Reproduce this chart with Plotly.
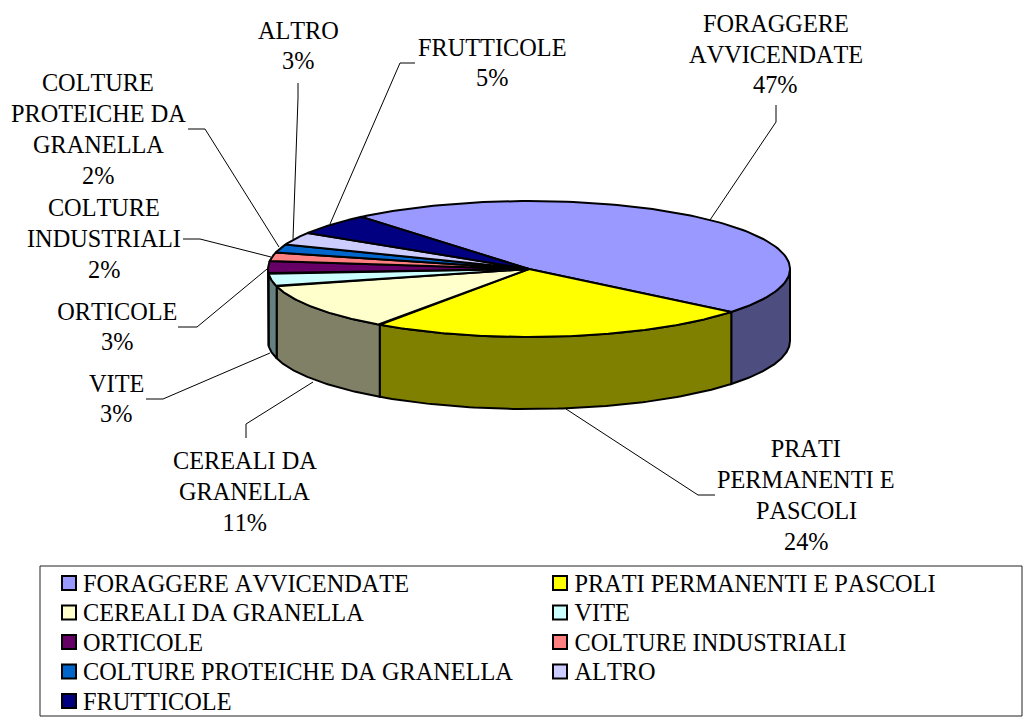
import numpy as np
import plotly.graph_objects as go

categories = ["FORAGGERE AVVICENDATE", "PRATI PERMANENTI E PASCOLI", "CEREALI DA GRANELLA",
              "VITE", "ORTICOLE", "COLTURE INDUSTRIALI",
              "COLTURE PROTEICHE DA GRANELLA", "ALTRO", "FRUTTICOLE"]
values = [47.0, 23.8, 11.2, 3, 3, 2, 2, 3, 5]
top_colors = ["#9999FF", "#FFFF00", "#FFFFCC", "#CCFFFF", "#660066", "#FF8080", "#0066CC", "#CCCCFF", "#000080"]
side_colors = ["#4D4D80", "#808000", "#808066", "#668080", "#330033", "#804040", "#003366", "#666680", "#000040"]
label_lines = [["FORAGGERE", "AVVICENDATE"], ["PRATI", "PERMANENTI E", "PASCOLI"], ["CEREALI DA", "GRANELLA"],
               ["VITE"], ["ORTICOLE"], ["COLTURE", "INDUSTRIALI"],
               ["COLTURE", "PROTEICHE DA", "GRANELLA"], ["ALTRO"], ["FRUTTICOLE"]]

# layout constants (pixels)
CX, CY, RX, RY, DEPTH = 529, 269, 261, 68, 72
START = 130.0
FONT = "Liberation Serif, Times New Roman, serif"
FS = 24.3
LABEL_DY = 30.7
label_pos = [(775.5, 54), (806, 495), (244.5, 491.5), (116, 398.5), (117, 326.5),
             (104, 238.5), (98, 129), (298, 45.5), (492, 62.5)]
leaders = [[(776, 105), (776, 122), (710, 220)],
           [(566, 409), (698, 495), (715, 495)],
           [(246, 438), (246, 424), (313, 382)],
           [(146, 399), (163, 399), (270, 353)],
           [(178, 327), (197, 327), (267, 269)],
           [(183, 239), (200, 239), (271, 257)],
           [(188, 129), (205, 129), (279, 247)],
           [(298, 83), (298, 98), (293, 239)],
           [(415, 63), (400, 63), (330, 224)]]
LEG_X = [69, 560]
LEG_TEXT_X = [83, 574.5]
LEG_TEXT_DY = 2.5
LEG_Y0, LEG_DY = 583, 29.5

fig = go.Figure()
fracs = np.array(values, float) / sum(values) * 360
ends = START - np.cumsum(fracs)
starts = ends + fracs


def pt(a, dz=0):
    a = np.radians(a)
    return CX + RX * np.cos(a), CY - RY * np.sin(a) + dz


def face(xs, ys, color):
    fig.add_trace(go.Scatter(x=xs, y=ys, mode="lines", fill="toself", fillcolor=color,
                             line=dict(color="black", width=2), hoverinfo="skip", showlegend=False))


# walls (only the part of each slice on the front half)
for s, e, c in zip(starts, ends, side_colors):
    s2, e2 = s % 360, e % 360
    if s2 < e2:  # slice crosses 0 degrees
        a0, a1 = e2, 360
    else:
        a0, a1 = max(e2, 180), min(s2, 360)
    if a1 <= a0:
        continue
    t = np.linspace(a0, a1, 80)
    x1, y1 = pt(t)
    x2, y2 = pt(t[::-1], DEPTH)
    face(np.r_[x1, x2, x1[0]], np.r_[y1, y2, y1[0]], c)

# top faces
for s, e, c in zip(starts, ends, top_colors):
    t = np.linspace(s, e, 120)
    x1, y1 = pt(t)
    face(np.r_[CX, x1, CX], np.r_[CY, y1, CY], c)

# legend
n = len(categories)
lx = [LEG_X[i % 2] for i in range(n)]
ltx = [LEG_TEXT_X[i % 2] for i in range(n)]
ly = [LEG_Y0 + LEG_DY * (i // 2) for i in range(n)]
fig.add_trace(go.Scatter(x=lx, y=ly, mode="markers", hoverinfo="skip", showlegend=False,
                         marker=dict(symbol="square", size=14, color=top_colors,
                                     line=dict(color="black", width=2))))
fig.add_trace(go.Scatter(x=ltx, y=[v + LEG_TEXT_DY for v in ly], mode="text", text=categories,
                         textposition="middle right", hoverinfo="skip", showlegend=False, cliponaxis=False,
                         textfont=dict(family=FONT, size=FS, color="black")))

# data labels, one annotation per line so the line pitch follows the reference
for (x, y), lines, v in zip(label_pos, label_lines, values):
    rows = lines + [f"{round(v)}%"]
    for i, row in enumerate(rows):
        fig.add_annotation(x=x, y=y + (i - (len(rows) - 1) / 2) * LABEL_DY, text=row, showarrow=False,
                           xanchor="center", yanchor="middle", align="center",
                           font=dict(family=FONT, size=FS, color="black"))

shapes = [dict(type="rect", x0=40, y0=566, x1=1022, y1=716, line=dict(color="#222222", width=1),
               fillcolor="rgba(0,0,0,0)", layer="below")]
for pts in leaders:
    path = "M " + " L ".join(f"{a},{b}" for a, b in pts)
    shapes.append(dict(type="path", path=path, line=dict(color="black", width=1)))

fig.update_layout(width=1024, height=720, margin=dict(l=0, r=0, t=0, b=0, pad=0),
                  paper_bgcolor="white", plot_bgcolor="white", showlegend=False, shapes=shapes,
                  xaxis=dict(range=[0, 1024], visible=False, fixedrange=True),
                  yaxis=dict(range=[720, 0], visible=False, fixedrange=True))
fig.write_html("out.html", config=dict(displayModeBar=False),
               post_script="document.body.style.margin='0';document.body.style.overflow='hidden';"
                           "var s=document.createElement('style');"
                           "s.textContent='svg text{font-kerning:none !important;}';"
                           "document.head.appendChild(s);")
